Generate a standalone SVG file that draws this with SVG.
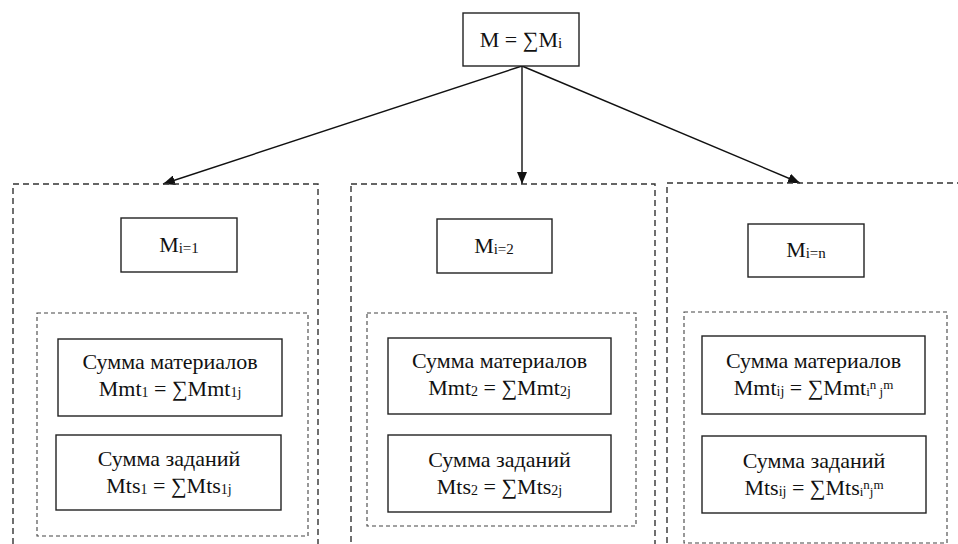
<svg xmlns="http://www.w3.org/2000/svg" width="958" height="544" viewBox="0 0 958 544">
<style>
.box{fill:#fff;stroke:#222;stroke-width:1.4}
.outer{fill:none;stroke:#333;stroke-width:1.4;stroke-dasharray:6,4}
.inner{fill:none;stroke:#444;stroke-width:1.1;stroke-dasharray:4,3}
text{font-family:"Liberation Serif","Times New Roman",serif;fill:#111;text-anchor:middle}
.t{font-size:22px}
.m{font-size:22px}
.edge{stroke:#111;stroke-width:1.4;fill:none}
</style>
<defs>
<marker id="ah" viewBox="0 0 12 10" refX="12" refY="5" markerWidth="12" markerHeight="10" markerUnits="userSpaceOnUse" orient="auto">
<path d="M0,0 L12,5 L0,10 z" fill="#111"/>
</marker>
</defs>
<rect width="958" height="544" fill="#fff"/>
<g id="connectors">
<line class="edge" x1="522" y1="66" x2="163" y2="184" marker-end="url(#ah)"/>
<line class="edge" x1="522" y1="66" x2="522" y2="184" marker-end="url(#ah)"/>
<line class="edge" x1="522" y1="66" x2="800" y2="183" marker-end="url(#ah)"/>
</g>
<g id="top">
<rect class="box" x="463" y="13" width="116" height="53"/>
<text class="m" x="521" y="47">M = ∑M<tspan font-size="15px" dy="1">i</tspan></text>
</g>
<g id="group1">
<rect class="outer" x="13" y="184" width="305" height="370"/>
<g id="m1">
<rect class="box" x="121" y="218" width="116" height="54"/>
<text class="m" x="179" y="252">M<tspan font-size="15px" dy="1">i=1</tspan></text>
</g>
<rect class="inner" x="37" y="313" width="271" height="223"/>
<g id="mat1">
<rect class="box" x="58" y="339" width="224" height="77"/>
<text class="t" x="170" y="369">Сумма материалов</text>
<text class="t" x="170" y="396">Mmt<tspan font-size="14px" dy="1">1</tspan><tspan dy="-1"> = ∑Mmt</tspan><tspan font-size="14px" dy="1">1j</tspan></text>
</g>
<g id="task1">
<rect class="box" x="56" y="435" width="225" height="75"/>
<text class="t" x="169" y="466">Сумма заданий</text>
<text class="t" x="169" y="493">Mts<tspan font-size="14px" dy="1">1</tspan><tspan dy="-1"> = ∑Mts</tspan><tspan font-size="14px" dy="1">1j</tspan></text>
</g>
</g>
<g id="group2">
<rect class="outer" x="351" y="184" width="304" height="370"/>
<g id="m2">
<rect class="box" x="437" y="219" width="115" height="54"/>
<text class="m" x="494" y="253">M<tspan font-size="15px" dy="1">i=2</tspan></text>
</g>
<rect class="inner" x="367" y="313" width="269" height="213"/>
<g id="mat2">
<rect class="box" x="388" y="338" width="223" height="76"/>
<text class="t" x="499.5" y="368">Сумма материалов</text>
<text class="t" x="499.5" y="395">Mmt<tspan font-size="14px" dy="1">2</tspan><tspan dy="-1"> = ∑Mmt</tspan><tspan font-size="14px" dy="1">2j</tspan></text>
</g>
<g id="task2">
<rect class="box" x="388" y="435" width="223" height="77"/>
<text class="t" x="499.5" y="467">Сумма заданий</text>
<text class="t" x="499.5" y="494">Mts<tspan font-size="14px" dy="1">2</tspan><tspan dy="-1"> = ∑Mts</tspan><tspan font-size="14px" dy="1">2j</tspan></text>
</g>
</g>
<g id="group3">
<rect class="outer" x="667" y="183" width="320" height="370"/>
<g id="mn">
<rect class="box" x="748" y="224" width="116" height="53"/>
<text class="m" x="806" y="257">M<tspan font-size="15px" dy="1">i=n</tspan></text>
</g>
<rect class="inner" x="684" y="312" width="263" height="231"/>
<g id="mat3">
<rect class="box" x="702" y="336" width="223" height="78"/>
<text class="t" x="813.5" y="368">Сумма материалов</text>
<text class="t" x="813.5" y="395">Mmt<tspan font-size="14px" dy="1">ij</tspan><tspan dy="-1"> = ∑Mmt</tspan><tspan font-size="13px" dy="1">i</tspan><tspan font-size="13px" dy="-7">n </tspan><tspan font-size="13px" dy="7">j</tspan><tspan font-size="13px" dy="-7">m</tspan></text>
</g>
<g id="task3">
<rect class="box" x="702" y="436" width="224" height="77"/>
<text class="t" x="814" y="468">Сумма заданий</text>
<text class="t" x="814" y="495">Mts<tspan font-size="14px" dy="1">ij</tspan><tspan dy="-1"> = ∑Mts</tspan><tspan font-size="13px" dy="1">i</tspan><tspan font-size="13px" dy="-7">n</tspan><tspan font-size="13px" dy="7">j</tspan><tspan font-size="13px" dy="-7">m</tspan></text>
</g>
</g>
</svg>
